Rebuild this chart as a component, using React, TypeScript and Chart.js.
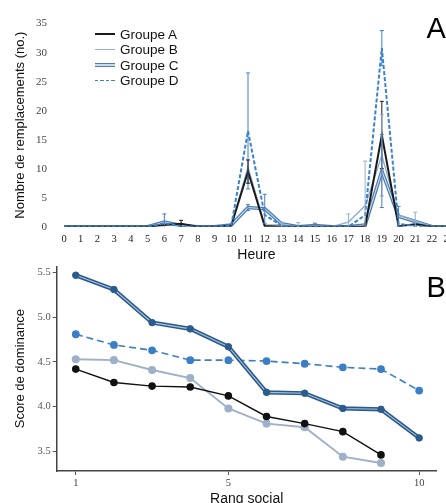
import React, { useEffect, useRef } from 'react';
import { Chart, registerables } from 'chart.js';

Chart.register(...registerables);

// ---------- Panel A data ----------
const hours = ['0','1','2','3','4','5','6','7','8','9','10','11','12','13','14','15','16','17','18','19','20','21','22','23'];
const hourA = [0,0,0,0,0,0,0.3,0.5,0,0,0.2,9.5,0.1,0,0,0,0,0,0,15.8,0.1,0.4,0,0];
const hourB = [0,0,0,0,0,0,0.5,0.2,0,0,0.2,10.3,0.3,0.3,0,0.1,0,0.8,3.6,12.3,2,1,0,0];
const hourC = [0,0,0,0,0,0,0.8,0.2,0,0,0.3,3.3,3.1,0.5,0,0.2,0,0,0.3,9.6,1.8,0.9,0,0];
const hourD = [0,0,0,0,0,0,0.6,0.1,0,0,0.2,16.5,2,0.2,0,0,0,0,2,30.8,0.5,0.1,0,0];
const errA = [0,0,0,0,0,0,0,0.6,0,0,0,2,0,0,0,0,0,0,0,5.8,0,0,0,0];
const errB = [0,0,0,0,0,0,0,0,0,0,0,0,0,0.5,0.7,0,0,1.4,7.7,7,0,1.5,0,0];
const errC = [0,0,0,0,0,0,1.4,0,0,0,0,0.5,2.5,0,0,0.4,0,0,0,6.3,1.7,0,0,0];
const errD = [0,0,0,0,0,0,0,0,0,0,0,10,0,0,0,0,0,0,0,3,0,0,0,0];
const countTicks = [0,5,10,15,20,25,30,35];

// ---------- Panel B data ----------
const rangs = [1,2,3,4,5,6,7,8,9,10];
const scoreA = [4.42,4.27,4.23,4.22,4.12,3.89,3.81,3.72,3.46];
const scoreB = [4.53,4.52,4.41,4.32,3.98,3.81,3.77,3.44,3.37];
const scoreC = [5.47,5.31,4.94,4.87,4.67,4.16,4.15,3.98,3.97,3.65];
const scoreD = [4.81,4.69,4.63,4.52,4.52,4.51,4.48,4.44,4.42,4.18];
const rankTicks = [1,5,10];
const scoreTicks = [3.5,4.0,4.5,5.0,5.5];

const groupNames = ['Groupe A','Groupe B','Groupe C','Groupe D'];

const colA = '#1a1a1a';
const colB = '#93afd0';
const colCout = '#4d7eb3';
const colCin = '#c9d9ea';
const colD = '#3b82cc';

const bA = '#111111';
const bB = '#9fb0c9';
const bCout = '#2a5b8c';
const bCin = '#a9c1db';
const bD = '#3c7fc4';

const serif = 'Liberation Serif';
const sans = 'Liberation Sans';

const errorBarPlugin = {
  id: 'errorBars',
  afterDatasetsDraw(chart: any) {
    const ctx = chart.ctx;
    const area = chart.chartArea;
    const yScale = chart.scales.y;
    ctx.save();
    ctx.beginPath();
    ctx.rect(area.left, area.top, area.right - area.left, area.bottom - area.top);
    ctx.clip();
    chart.data.datasets.forEach((ds: any, i: number) => {
      if (!ds.errorBars) return;
      const meta = chart.getDatasetMeta(i);
      ds.errorBars.forEach((e: number, j: number) => {
        if (!e) return;
        const pt = meta.data[j];
        const v = ds.data[j];
        const yTop = yScale.getPixelForValue(v + e);
        const yBot = yScale.getPixelForValue(v - e);
        ctx.strokeStyle = ds.errorColor || ds.borderColor;
        ctx.lineWidth = 1;
        ctx.beginPath();
        ctx.moveTo(pt.x, yTop);
        ctx.lineTo(pt.x, yBot);
        ctx.moveTo(pt.x - 2, yTop);
        ctx.lineTo(pt.x + 2, yTop);
        ctx.moveTo(pt.x - 2, yBot);
        ctx.lineTo(pt.x + 2, yBot);
        ctx.stroke();
      });
    });
    ctx.restore();
  },
};

function TopChart() {
  const ref = useRef<HTMLCanvasElement>(null);
  useEffect(() => {
    const chart = new Chart(ref.current as HTMLCanvasElement, {
      type: 'line',
      data: {
        labels: hours,
        datasets: [
          { label: groupNames[3], data: hourD, borderColor: colD, borderWidth: 2, borderDash: [4, 2], pointRadius: 0, tension: 0, order: 0, errorBars: errD } as any,
          { label: groupNames[0], data: hourA, borderColor: colA, borderWidth: 2, pointRadius: 0, tension: 0, order: 1, errorBars: errA } as any,
          { label: groupNames[1], data: hourB, borderColor: colB, borderWidth: 1.4, pointRadius: 0, tension: 0, order: 2, errorBars: errB } as any,
          { label: groupNames[2] + ' inner', data: hourC, borderColor: colCin, borderWidth: 1.1, pointRadius: 0, tension: 0, order: 3 } as any,
          { label: groupNames[2], data: hourC, borderColor: colCout, borderWidth: 3.6, pointRadius: 0, tension: 0, order: 4, errorBars: errC } as any,
        ],
      },
      options: {
        responsive: false,
        animation: false,
        layout: { padding: { left: 0, top: 17, right: 10, bottom: 0 } },
        plugins: { legend: { display: false }, tooltip: { enabled: false } },
        scales: {
          x: {
            type: 'category',
            grid: { display: false, drawTicks: false },
            border: { display: false },
            ticks: { autoSkip: false, maxRotation: 0, padding: 6, color: '#222', font: { family: serif, size: 10.5 } },
            title: { display: true, text: 'Heure', color: '#111', font: { family: sans, size: 14 }, padding: { top: 0, bottom: 0 } },
            afterFit: (s: any) => { s.height = 264 - 226.7; },
          },
          y: {
            min: 0,
            max: 35,
            grid: { display: false, drawTicks: false },
            border: { display: false },
            afterBuildTicks: (s: any) => { s.ticks = countTicks.map((v) => ({ value: v })); },
            ticks: { padding: 17, color: '#444', font: { family: serif, size: 11 } },
            title: { display: true, text: 'Nombre de remplacements (no.)', color: '#111', font: { family: sans, size: 13 }, padding: { top: 13, bottom: 0 } },
            afterFit: (s: any) => { s.width = 64; },
          },
        },
      } as any,
      plugins: [errorBarPlugin],
    });
    return () => chart.destroy();
  }, []);
  return <canvas ref={ref} width={460} height={264} style={{ position: 'absolute', left: 0, top: 0, width: 460, height: 264 }} />;
}

function BottomChart() {
  const ref = useRef<HTMLCanvasElement>(null);
  useEffect(() => {
    const pts = (arr: number[]) => arr.map((y, i) => ({ x: rangs[i], y }));
    const chart = new Chart(ref.current as HTMLCanvasElement, {
      type: 'line',
      data: {
        datasets: [
          { label: groupNames[2] + ' points', data: pts(scoreC), showLine: false, pointRadius: 3.3, pointBackgroundColor: bCout, pointBorderColor: bCout, borderColor: bCout, order: 0 } as any,
          { label: groupNames[2] + ' inner', data: pts(scoreC), borderColor: bCin, borderWidth: 1.1, pointRadius: 0, tension: 0, order: 1 } as any,
          { label: groupNames[2], data: pts(scoreC), borderColor: bCout, borderWidth: 4.2, pointRadius: 0, tension: 0, order: 2 } as any,
          { label: groupNames[3], data: pts(scoreD), borderColor: bD, borderWidth: 1.6, borderDash: [7, 4], pointRadius: 3.1, pointBackgroundColor: bD, pointBorderColor: bD, tension: 0, order: 3 } as any,
          { label: groupNames[0], data: pts(scoreA), borderColor: bA, borderWidth: 1.4, pointRadius: 3.1, pointBackgroundColor: bA, pointBorderColor: bA, tension: 0, order: 4 } as any,
          { label: groupNames[1], data: pts(scoreB), borderColor: bB, borderWidth: 1.9, pointRadius: 3.1, pointBackgroundColor: bB, pointBorderColor: bB, tension: 0, order: 5 } as any,
        ],
      },
      options: {
        responsive: false,
        animation: false,
        layout: { padding: { left: 0, top: 4.7, right: 9.3, bottom: 0 } },
        plugins: { legend: { display: false }, tooltip: { enabled: false } },
        scales: {
          x: {
            type: 'linear',
            min: 0.5,
            max: 10.46,
            grid: { display: true, drawOnChartArea: false, drawTicks: true, tickLength: 4, color: '#555' },
            border: { display: true, color: '#444', width: 1.5 },
            afterBuildTicks: (s: any) => { s.ticks = rankTicks.map((v) => ({ value: v })); },
            ticks: { padding: 2, color: '#444', font: { family: serif, size: 10.5 } },
            title: { display: true, text: 'Rang social', color: '#111', font: { family: sans, size: 14 }, padding: { top: 0, bottom: 5.6 } },
            afterFit: (s: any) => { s.height = 42; },
          },
          y: {
            min: 3.28,
            max: 5.57,
            grid: { display: true, drawOnChartArea: false, drawTicks: true, tickLength: 4, color: '#555' },
            border: { display: true, color: '#444', width: 1.5 },
            afterBuildTicks: (s: any) => { s.ticks = scoreTicks.map((v) => ({ value: v })); },
            ticks: { padding: 2, color: '#555', font: { family: serif, size: 10.5 }, callback: (v: any) => Number(v).toFixed(1) },
            title: { display: true, text: 'Score de dominance', color: '#111', font: { family: sans, size: 13 }, padding: { top: 13, bottom: 0 } },
            afterFit: (s: any) => { s.width = 56.7; },
          },
        },
      } as any,
    });
    return () => chart.destroy();
  }, []);
  return <canvas ref={ref} width={446} height={255} style={{ position: 'absolute', left: 0, top: 258, width: 446, height: 255 }} />;
}

function LegendRow({ top, label, sample }: { top: number; label: string; sample: React.ReactNode }) {
  return (
    <div style={{ position: 'absolute', left: 95, top: top - 9, height: 18, display: 'flex', alignItems: 'center', whiteSpace: 'nowrap' }}>
      <div style={{ width: 20, display: 'flex', alignItems: 'center' }}>{sample}</div>
      <span style={{ marginLeft: 5, fontFamily: sans, fontSize: 13.5, color: '#111' }}>{label}</span>
    </div>
  );
}

export default function App() {
  return (
    <div style={{ position: 'absolute', left: 0, top: 0, width: 446, height: 503, overflow: 'hidden', background: '#fff' }}>
      <TopChart />
      <BottomChart />
      <LegendRow top={34} label={groupNames[0]} sample={<div style={{ width: 20, height: 1.5, background: colA }} />} />
      <LegendRow top={49.5} label={groupNames[1]} sample={<div style={{ width: 20, height: 1.2, background: colB }} />} />
      <LegendRow top={65} label={groupNames[2]} sample={<div style={{ width: 20, height: 1.4, background: colCin, borderTop: `1px solid ${colCout}`, borderBottom: `1px solid ${colCout}` }} />} />
      <LegendRow top={80.5} label={groupNames[3]} sample={<div style={{ width: 20, height: 1.6, background: `repeating-linear-gradient(to right, ${colD} 0 3.5px, transparent 3.5px 5.5px)` }} />} />
      <div style={{ position: 'absolute', left: 426.5, top: 14.3, fontFamily: sans, fontSize: 29, lineHeight: 1, color: '#000' }}>A</div>
      <div style={{ position: 'absolute', left: 426.5, top: 273, fontFamily: sans, fontSize: 29, lineHeight: 1, color: '#000' }}>B</div>
    </div>
  );
}
